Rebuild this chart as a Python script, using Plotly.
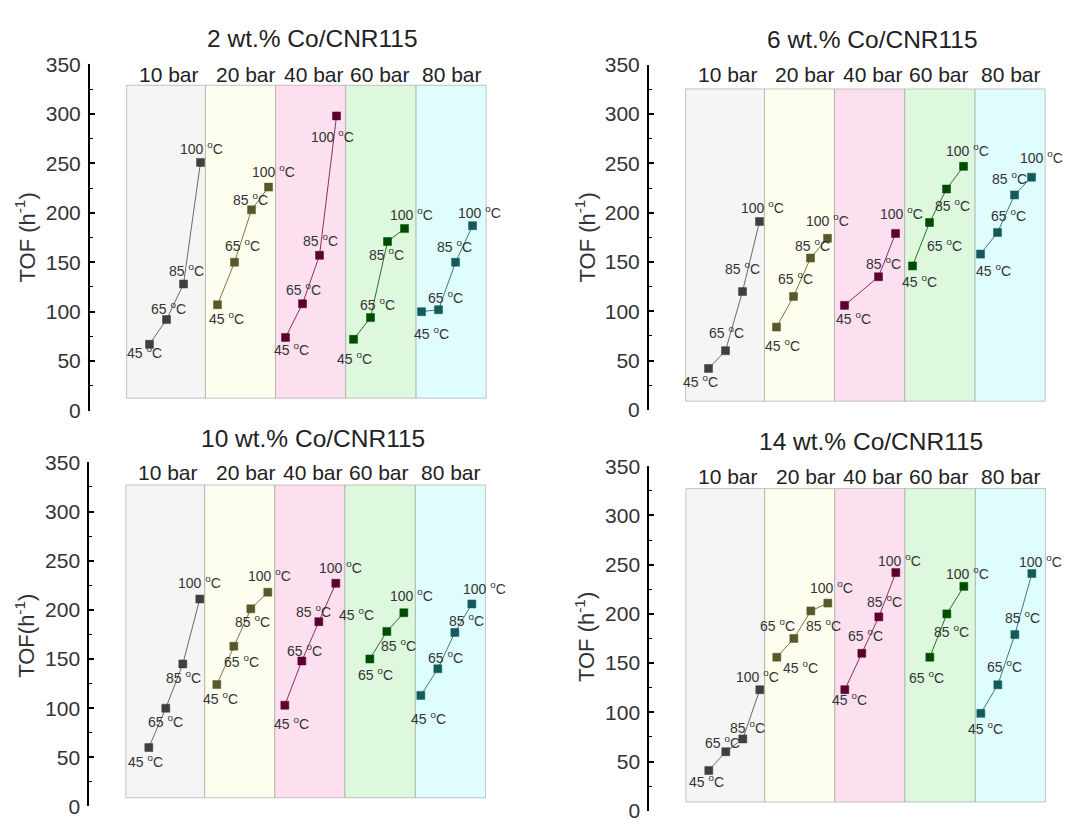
import plotly.graph_objects as go

# ---------------- data ----------------
temps = [45, 65, 85, 100]
pressures = ["10 bar", "20 bar", "40 bar", "60 bar", "80 bar"]
panel_titles = ["2 wt.% Co/CNR115", "6 wt.% Co/CNR115", "10 wt.% Co/CNR115", "14 wt.% Co/CNR115"]
ytitles = ["TOF (h<sup>-1</sup>)", "TOF (h<sup>-1</sup>)", "TOF(h<sup>-1</sup>)", "TOF (h<sup>-1</sup>)"]
ytick_vals = [0, 50, 100, 150, 200, 250, 300, 350]

tof_2wt = [[67, 92, 128, 251], [107, 150, 203, 226], [74, 108, 157, 298], [72, 94, 171, 184], [100, 102, 150, 187]]
tof_6wt = [[42, 60, 120, 191], [84, 115, 154, 174], [106, None, 135, 179], [146, 190, 224, 247], [158, 180, 218, 236]]
tof_10wt = [[60, 100, 145, 211], [124, 163, 201, 218], [103, 148, 188, 227], [None, 150, 178, 197], [113, 140, 177, 206]]
tof_14wt = [[41, 60, 73, 123], [156, 175, 203, 211], [123, 160, 197, 242], [None, 156, 200, 228], [99, 128, 179, 241]]
panels = [tof_2wt, tof_6wt, tof_10wt, tof_14wt]

# ---------------- styling ----------------
marker_colors = ["#3f3f3f", "#58582a", "#5c0030", "#004c00", "#145a5a"]
line_colors = ["#6a6a6a", "#76764a", "#8a3060", "#2a702a", "#3a7a7a"]
band_fills = ["#f5f5f5", "#fefeee", "#fde0ef", "#def8de", "#e0fdfd"]
band_edges = [-1.35, 3.29, 7.41, 11.54, 15.68, 19.8]
band_y = [(12.5, 329), (8.8, 325.5), (8.9, 327), (8.9, 327.3)]
bar_label_x = [1.15, 5.7, 9.65, 13.55, 17.8]

# per-point label offsets (dx right, dy down) in px
label_off = [
    [[(-5.5, 8), (2, -12), (3, -14), (0.7, -14.7)],
     [(9, 13), (7.7, -17), (-1.3, -10.7), (5.3, -16)],
     [(6, 11.7), (1, -14.3), (1, -15.7), (-3.7, 20.3)],
     [(1, 18.3), (6.7, -14), (-1.3, 12.3), (6.7, -14.3)],
     [(10, 21.7), (7, -12.7), (-0.7, -16.7), (7.3, -14)]],
    [[(-8, 12.3), (0.7, -19), (0.3, -23.3), (2.7, -15)],
     [(6, 17.7), (2, -18.3), (1.7, -13.3), (0, -18.3)],
     [(8.7, 12.7), None, (4.7, -13.3), (6, -20.7)],
     [(6.7, 15), (15, 22.7), (6.3, 16), (3.7, -16.3)],
     [(12.7, 15.7), (11.3, -17.7), (-4.7, -16.7), (10, -20.3)]],
    [[(-3.7, 14), (-0.3, 13.3), (0.7, 13.3), (-0.3, -16.7)],
     [(4, 13.3), (7.3, 15), (1.3, 12.3), (2, -16.7)],
     [(6.7, 18), (3, -11.3), (-5, -10.3), (5, -16.7)],
     [(4, 0), (5.3, 15.3), (11.3, 13.3), (7.7, -17.7)],
     [(8, 22.3), (7.7, -12.3), (12, -12), (12.3, -16)]],
    [[(-2.3, 10.3), (-3.3, -9.7), (4.7, -11.7), (-2.3, -13.3)],
     [(23.3, 9.7), (-16.7, -13.3), (13, 14.3), (4, -15.7)],
     [(4.3, 9.3), (4, -18.7), (6, -15.7), (3.3, -13)],
     [None, (-3.3, 19.3), (4.3, 16.7), (3.7, -13.7)],
     [(5, 15), (6.7, -19), (7.7, -17.7), (8.7, -12.7)]],
]
# labels drawn without a point (panel, band, temp index, label height)
stray_labels = [(2, 3, 0, 196)]

W, H = 1081, 824
xdomains = [(90, 487), (649, 1046), (89.3, 486.3), (649.3, 1046.3)]   # px
ydomains = [(54, 410), (54.3, 409.3), (463.3, 817.3), (467.3, 821.7)]  # px (top, bottom)
title_pos = [(312, 27), (872, 28), (313, 439), (871, 441.7)]          # px
ytitle_pos = [(25, 232), (585, 232), (25, 641.7), (585, 643)]         # px

FONT = "Liberation Sans, Arial, sans-serif"
fig = go.Figure()
annotations = []
shapes = []

for p, data in enumerate(panels):
    xa = "x" if p == 0 else f"x{p+1}"
    ya = "y" if p == 0 else f"y{p+1}"
    xd = [xdomains[p][0] / W, xdomains[p][1] / W]
    yd = [1 - ydomains[p][1] / H, 1 - ydomains[p][0] / H]
    fig.update_layout(**{
        ("xaxis" if p == 0 else f"xaxis{p+1}"): dict(domain=xd, range=[-3.5, 19.85], visible=False,
                                                     anchor=ya, fixedrange=True),
        ("yaxis" if p == 0 else f"yaxis{p+1}"): dict(
            domain=yd, range=[0, 350], anchor=xa, tickvals=ytick_vals,
            showline=True, linecolor="black", linewidth=2, showgrid=False, zeroline=False,
            ticks="inside", ticklen=5, tickwidth=1.5, tickcolor="black",
            minor=dict(dtick=25, ticks="inside", ticklen=3, tickwidth=1.2, tickcolor="black"),
            tickfont=dict(family=FONT, size=21, color="#333333"),
            ticklabelstandoff=3,
        ),
    })
    # bands
    for b in range(5):
        shapes.append(dict(type="rect", xref=xa, yref=ya, x0=band_edges[b], x1=band_edges[b + 1],
                           y0=band_y[p][0], y1=band_y[p][1], fillcolor=band_fills[b],
                           line=dict(color="rgba(150,150,150,0.55)", width=1), layer="below"))
        annotations.append(dict(xref=xa, yref=ya, x=bar_label_x[b], y=340, text=pressures[b],
                                showarrow=False, font=dict(family=FONT, size=21, color="#222222"),
                                yanchor="middle"))
    # series
    for b in range(5):
        xs = [b * 4 + t for t in range(4)]
        ys = data[b]
        fig.add_trace(go.Scatter(
            x=xs, y=ys, xaxis=xa, yaxis=ya, mode="lines+markers", connectgaps=True,
            line=dict(color=line_colors[b], width=1),
            marker=dict(symbol="square", size=8, color=marker_colors[b],
                        line=dict(color=marker_colors[b], width=0.5)),
            showlegend=False, hoverinfo="skip"))
        for t in range(4):
            if ys[t] is None or label_off[p][b][t] is None:
                continue
            dx, dy = label_off[p][b][t]
            annotations.append(dict(xref=xa, yref=ya, x=xs[t], y=ys[t], xshift=dx, yshift=-dy,
                                    text=f"{temps[t]} <sup>o</sup>C", showarrow=False,
                                    font=dict(family=FONT, size=14, color="#333333")))
    # panel title & y title (paper coordinates)
    tx, ty = title_pos[p]
    annotations.append(dict(xref="paper", yref="paper", x=tx / W, y=1 - ty / H, text=panel_titles[p],
                            showarrow=False, xanchor="center", yanchor="middle",
                            font=dict(family=FONT, size=24.5, color="#222222")))
    yx, yy = ytitle_pos[p]
    annotations.append(dict(xref="paper", yref="paper", x=yx / W, y=1 - yy / H, text=ytitles[p],
                            showarrow=False, textangle=-90, xanchor="center", yanchor="middle",
                            font=dict(family=FONT, size=22, color="#333333")))

for (p, b, t, yv) in stray_labels:
    xa = "x" if p == 0 else f"x{p+1}"
    ya = "y" if p == 0 else f"y{p+1}"
    dx, dy = label_off[p][b][t]
    annotations.append(dict(xref=xa, yref=ya, x=b * 4 + t, y=yv, xshift=dx, yshift=-dy,
                            text=f"{temps[t]} <sup>o</sup>C", showarrow=False,
                            font=dict(family=FONT, size=14, color="#333333")))

fig.update_layout(width=W, height=H, margin=dict(l=0, r=0, t=0, b=0),
                  paper_bgcolor="white", plot_bgcolor="rgba(0,0,0,0)",
                  shapes=shapes, annotations=annotations, showlegend=False)
fig.write_html("out.html", config={"displayModeBar": False})
